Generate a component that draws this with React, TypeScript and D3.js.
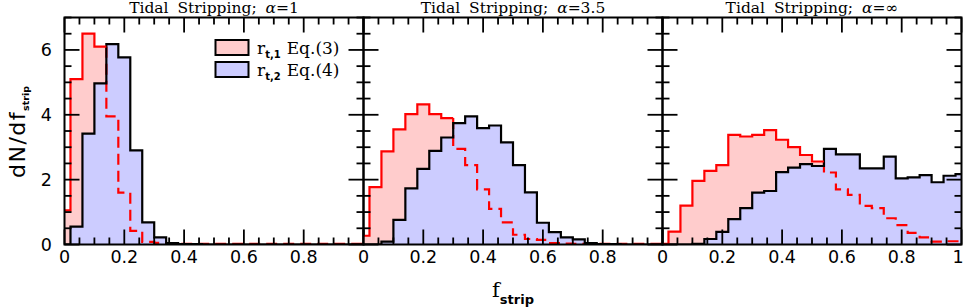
import React from "react";
import * as d3 from "d3";

// bin centres of the histograms (bin width 0.04)
const binCenters = [
  0, 0.04, 0.08, 0.12, 0.16, 0.2, 0.24, 0.28, 0.32, 0.36, 0.4, 0.44, 0.48,
  0.52, 0.56, 0.6, 0.64, 0.68, 0.72, 0.76, 0.8, 0.84, 0.88, 0.92, 0.96, 1.0,
];
const binWidth = 0.04;

const titlePrefix = "Tidal Stripping; ";
const alphaValues = ["1", "3.5", "∞"];

// r_t,1 Eq.(3)  (red)
const rt1Alpha1 = [
  1.05, 5.1, 6.5, 6.1, 3.95, 1.6, 0.42, 0.08, 0.05, 0.02, 0.02, 0.02, 0.02,
  0.02, 0.02, 0.02, 0.02, 0.02, 0.02, 0.02, 0.02, 0.02, 0.02, 0.02, 0.02, 0.02,
];
const rt1Alpha35 = [
  0.27, 1.77, 2.87, 3.55, 4.02, 4.32, 4.02, 3.9, 2.95, 2.45, 1.7, 1.1, 0.68,
  0.3, 0.17, 0.14, 0.04, 0.03, 0.02, 0.02, 0.02, 0.02, 0.02, 0.02, 0.02, 0.02,
];
const rt1AlphaInf = [
  0.02, 0.4, 1.2, 1.96, 2.27, 2.45, 3.38, 3.33, 3.38, 3.53, 3.23, 3.0, 2.76,
  2.56, 2.22, 1.7, 1.53, 1.19, 1.12, 0.81, 0.6, 0.36, 0.22, 0.09, 0.1, 0.1,
];

// r_t,2 Eq.(4)  (blue)
const rt2Alpha1 = [
  0, 0.55, 3.42, 4.97, 6.18, 5.77, 2.9, 0.68, 0.22, 0.04, 0.01, 0.01, 0, 0, 0,
  0, 0, 0, 0, 0, 0, 0, 0, 0, 0, 0,
];
const rt2Alpha35 = [
  0, 0, 0.09, 0.76, 1.73, 2.33, 2.89, 3.3, 3.74, 3.95, 3.59, 3.67, 3.15, 2.45,
  1.61, 0.67, 0.38, 0.22, 0.16, 0.04, 0.01, 0.01, 0, 0, 0, 0,
];
const rt2AlphaInf = [
  0, 0, 0, 0.02, 0.17, 0.39, 0.78, 1.12, 1.6, 1.65, 2.23, 2.37, 2.48, 2.42,
  2.95, 2.78, 2.78, 2.35, 2.35, 2.71, 2.04, 2.07, 2.14, 1.92, 2.12, 2.17,
];

const redSeries = [rt1Alpha1, rt1Alpha35, rt1AlphaInf];
const blueSeries = [rt2Alpha1, rt2Alpha35, rt2AlphaInf];

const xTickLabels = [
  ["0", "0.2", "0.4", "0.6", "0.8"],
  ["0", "0.2", "0.4", "0.6", "0.8"],
  ["0", "0.2", "0.4", "0.6", "0.8", "1"],
];
const yTickLabels = ["0", "2", "4", "6"];

const W = 964;
const H = 308;
const left = 64.5;
const top = 17.5;
const panelW = 299;
const panelH = 227;

const PINK = "#ffcccc";
const LAVENDER = "#ccccff";
const RED = "#ff0000";

const sans = "'DejaVu Sans', sans-serif";
const serif = "'DejaVu Serif', serif";

function stepPoints(vals: number[]): [number, number][] {
  const pts: [number, number][] = binCenters.map((c, i) => [
    Math.max(0, c - binWidth / 2),
    vals[i],
  ]);
  pts.push([1, vals[vals.length - 1]]);
  return pts;
}

export default function App() {
  const ref = React.useRef<SVGSVGElement>(null);

  React.useEffect(() => {
    const svg = d3.select(ref.current);
    svg.selectAll("*").remove();

    const y = d3.scaleLinear().domain([0, 7]).range([top + panelH, top]);

    const defs = svg.append("defs");

    alphaValues.forEach((alpha, p) => {
      const x0 = left + p * panelW;
      const x = d3.scaleLinear().domain([0, 1]).range([x0, x0 + panelW]);

      defs
        .append("clipPath")
        .attr("id", `clip${p}`)
        .append("rect")
        .attr("x", x0)
        .attr("y", top)
        .attr("width", panelW)
        .attr("height", panelH);

      const g = svg.append("g").attr("clip-path", `url(#clip${p})`);

      const red = redSeries[p];
      const blue = blueSeries[p];

      const area = d3
        .area<[number, number]>()
        .x((d) => x(d[0]))
        .y0(y(0))
        .y1((d) => y(d[1]))
        .curve(d3.curveStepAfter);
      const line = d3
        .line<[number, number]>()
        .x((d) => x(d[0]))
        .y((d) => y(d[1]))
        .curve(d3.curveStepAfter);

      const redPts = stepPoints(red);
      const bluePts = stepPoints(blue);

      g.append("path").attr("d", area(redPts)).attr("fill", PINK);
      g.append("path").attr("d", area(bluePts)).attr("fill", LAVENDER);

      // red line is solid while it lies above the blue histogram, dashed after
      const k = red.findIndex((v, i) => v < blue[i]);
      const edgeK = Math.max(0, binCenters[k] - binWidth / 2);
      const solidPts: [number, number][] = redPts.slice(0, k);
      solidPts.push([edgeK, red[k - 1]]);
      const dashedPts = ([[edgeK, red[k - 1]]] as [number, number][]).concat(
        redPts.slice(k)
      );

      g.append("path")
        .attr("d", line(dashedPts))
        .attr("fill", "none")
        .attr("stroke", RED)
        .attr("stroke-width", 2.2)
        .attr("stroke-dasharray", "11,6");

      g.append("path")
        .attr("d", line(bluePts))
        .attr("fill", "none")
        .attr("stroke", "#000")
        .attr("stroke-width", 2.2);

      g.append("path")
        .attr("d", line(solidPts))
        .attr("fill", "none")
        .attr("stroke", RED)
        .attr("stroke-width", 2.2);

      // frame
      svg
        .append("rect")
        .attr("x", x0)
        .attr("y", top)
        .attr("width", panelW)
        .attr("height", panelH)
        .attr("fill", "none")
        .attr("stroke", "#000")
        .attr("stroke-width", 2);

      const ticks = svg.append("g").attr("stroke", "#000").attr("stroke-width", 1.8);
      const major = 15;
      const minor = 7;
      const xMajor = x.ticks(5);
      x.ticks(20).forEach((t) => {
        const len = xMajor.some((m) => Math.abs(m - t) < 1e-9) ? major : minor;
        ticks.append("line").attr("x1", x(t)).attr("x2", x(t)).attr("y1", top + panelH).attr("y2", top + panelH - len);
        ticks.append("line").attr("x1", x(t)).attr("x2", x(t)).attr("y1", top).attr("y2", top + len);
      });
      const yMajor = y.ticks(4);
      y.ticks(14).forEach((t) => {
        const len = yMajor.some((m) => Math.abs(m - t) < 1e-9) ? major : minor;
        ticks.append("line").attr("x1", x0).attr("x2", x0 + len).attr("y1", y(t)).attr("y2", y(t));
        ticks.append("line").attr("x1", x0 + panelW).attr("x2", x0 + panelW - len).attr("y1", y(t)).attr("y2", y(t));
      });

      // x tick labels
      xTickLabels[p].forEach((lab, i) => {
        const tx = Math.min(x(xMajor[i]), W - 6);
        svg
          .append("text")
          .attr("x", tx)
          .attr("y", 263)
          .attr("text-anchor", "middle")
          .attr("font-family", sans)
          .attr("font-size", 17.5)
          .text(lab);
      });

      // title
      const tt = svg
        .append("text")
        .attr("x", x(0.5))
        .attr("y", 13)
        .attr("text-anchor", "middle")
        .attr("font-family", serif)
        .attr("font-size", 15.5)
        .attr("word-spacing", 4);
      tt.append("tspan").text(titlePrefix);
      tt.append("tspan").attr("font-style", "italic").text("α");
      tt.append("tspan").text("=" + alpha);

      if (p === 0) {
        yTickLabels.forEach((lab, i) => {
          svg
            .append("text")
            .attr("x", 52)
            .attr("y", y(yMajor[i]) + 6.3)
            .attr("text-anchor", "end")
            .attr("font-family", sans)
            .attr("font-size", 17.5)
            .text(lab);
        });

        // legend
        const legend = [
          { fill: PINK, sub: "t,1", eq: "Eq.(3)" },
          { fill: LAVENDER, sub: "t,2", eq: "Eq.(4)" },
        ];
        legend.forEach((d, i) => {
          const cy = 47.5 + i * 22;
          svg
            .append("rect")
            .attr("x", 215.5)
            .attr("y", cy - 7.5)
            .attr("width", 33)
            .attr("height", 15)
            .attr("fill", d.fill)
            .attr("stroke", "#000")
            .attr("stroke-width", 2);
          const t = svg
            .append("text")
            .attr("x", 257)
            .attr("y", cy + 6)
            .attr("font-family", serif)
            .attr("font-size", 17);
          t.append("tspan").text("r");
          t.append("tspan")
            .attr("dy", 4)
            .attr("font-size", 10)
            .attr("font-weight", "bold")
            .attr("font-family", sans)
            .text(d.sub);
          t.append("tspan").attr("dy", -4).attr("dx", 6).text(d.eq);
        });
      }
    });

    // y axis label
    const yl = svg
      .append("text")
      .attr("transform", "translate(25,132) rotate(-90)")
      .attr("text-anchor", "middle")
      .attr("font-family", sans)
      .attr("font-size", 22);
    yl.append("tspan").attr("letter-spacing", 1.5).text("dN/df");
    yl.append("tspan")
      .attr("dy", 4)
      .attr("font-size", 9.5)
      .attr("font-weight", "bold")
      .text("strip");

    // x axis label
    const xl = svg
      .append("text")
      .attr("x", left + panelW * 1.5)
      .attr("y", 297)
      .attr("text-anchor", "middle")
      .attr("font-family", serif)
      .attr("font-size", 21);
    xl.append("tspan").text("f");
    xl.append("tspan")
      .attr("dy", 7)
      .attr("font-size", 13)
      .attr("font-weight", "bold")
      .attr("font-family", sans)
      .text("strip");
  }, []);

  return (
    <svg
      ref={ref}
      width={W}
      height={H}
      style={{ position: "absolute", left: 0, top: 0, background: "#fff" }}
    />
  );
}
